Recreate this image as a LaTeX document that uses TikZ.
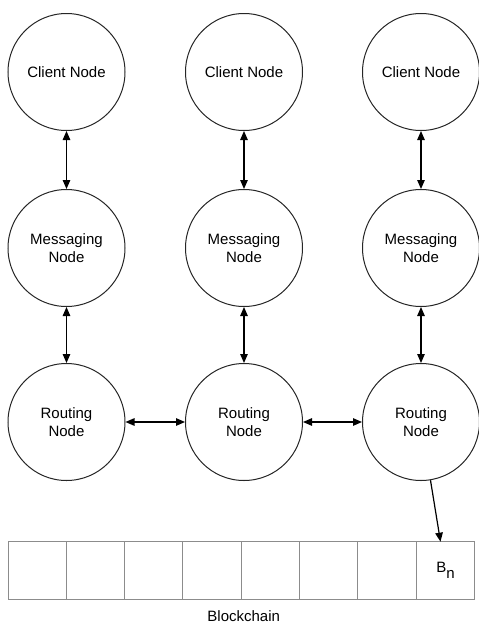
\documentclass[tikz,border=0pt]{standalone}
\usepackage{fontspec}
\setmainfont{Liberation Sans}
\usetikzlibrary{arrows.meta}
\begin{document}
\begin{tikzpicture}[x=1pt,y=-1pt,
  peer/.style={circle,draw=black!85,line width=1pt,minimum size=117pt,inner sep=0pt,align=center,font=\fontsize{15}{17.5}\selectfont},
  link/.style={line width=1.2pt,{Triangle[length=9pt,width=7.5pt]}-{Triangle[length=9pt,width=7.5pt]}},
  onelink/.style={line width=1.2pt,-{Triangle[length=9pt,width=7.5pt]}},
  cell/.style={draw=black!45,line width=1pt,minimum width=58.33pt,minimum height=57.3pt,inner sep=0pt,font=\fontsize{15}{17.5}\selectfont},
  caption/.style={inner sep=0pt,font=\fontsize{15}{17.5}\selectfont}]
\useasboundingbox (0,0) rectangle (479,627);
% nodes
\node[peer] (c1) at (66.5,72) {Client Node};
\node[peer] (c2) at (244,72) {Client Node};
\node[peer] (c3) at (421,72) {Client Node};
\node[peer] (m1) at (66.5,248) {Messaging\\Node};
\node[peer] (m2) at (244,248) {Messaging\\Node};
\node[peer] (m3) at (421,248) {Messaging\\Node};
\node[peer] (r1) at (66.5,422) {Routing\\Node};
\node[peer] (r2) at (244,422) {Routing\\Node};
\node[peer] (r3) at (421,422) {Routing\\Node};
% blockchain cells
\foreach \i in {1,...,8}{
  \node[cell] (b\i) at ({8+58.33*(\i-0.5)},570.4) {};
}
\node[caption] (bn) at (b8.center) {B\raisebox{-6pt}{n}};
\node[caption,anchor=north] (chain) at (243.7,610.5) {Blockchain};
\coordinate (bntop) at (440.5,541.7);
% connectors
\draw[link] (c1) -- (m1);
\draw[link] (c2) -- (m2);
\draw[link] (c3) -- (m3);
\draw[link] (m1) -- (r1);
\draw[link] (m2) -- (r2);
\draw[link] (m3) -- (r3);
\draw[link] (r1) -- (r2);
\draw[link] (r2) -- (r3);
\draw[onelink] (r3) -- (bntop);
\end{tikzpicture}
\end{document}
